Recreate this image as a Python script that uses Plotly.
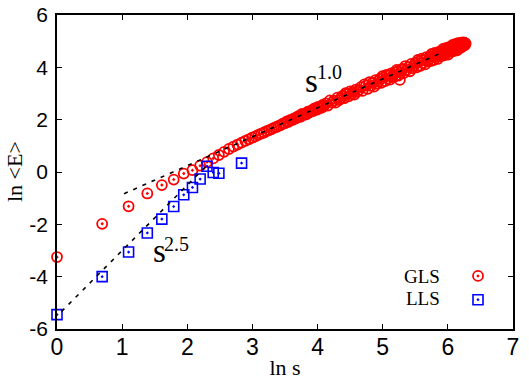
import numpy as np
import plotly.graph_objects as go

# GLS: cluster size s and ln<E>
gls_s = list(range(1, 61)) + list(range(62, 101, 2)) + list(range(103, 200, 3)) + list(range(200, 531, 5))
gls_lnE = [
    # s = 1..40
    -3.25, -1.98, -1.31, -0.82, -0.50, -0.29, -0.06, 0.07, 0.24, 0.38,
    0.52, 0.65, 0.77, 0.88, 0.97, 1.05, 1.12, 1.19, 1.25, 1.31,
    1.36, 1.42, 1.47, 1.51, 1.56, 1.60, 1.64, 1.69, 1.72, 1.76,
    1.79, 1.85, 1.86, 1.93, 1.92, 1.99, 1.98, 2.05, 2.04, 2.11,
    # s = 41..60
    2.14, 2.11, 2.22, 2.18, 2.23, 2.20, 2.31, 2.27, 2.31, 2.36,
    2.33, 2.43, 2.42, 2.38, 2.49, 2.45, 2.49, 2.45, 2.56, 2.51,
    # s = 62..100 step 2
    2.62, 2.54, 2.74, 2.65, 2.73, 2.65, 2.84, 2.75, 2.82, 2.91,
    2.82, 3.01, 2.98, 2.89, 3.08, 2.98, 3.06, 2.96, 3.15, 3.06,
    # s = 103..199 step 3
    3.13, 3.24, 3.10, 3.35, 3.30, 3.18, 3.43, 3.29, 3.41, 3.26,
    3.51, 3.37, 3.46, 3.56, 3.41, 3.66, 3.61, 3.47, 3.71, 3.57,
    3.68, 3.53, 3.77, 3.63, 3.71, 3.81, 3.66, 3.90, 3.84, 3.70,
    3.52, 3.80, 3.90,
    # s = 200..530 step 5
    3.94, 3.78, 4.05, 3.90, 4.01, 3.85, 4.13, 3.97, 4.06, 4.17,
    4.00, 4.28, 4.22, 4.06, 4.33, 4.17, 4.28, 4.11, 4.39, 4.22,
    4.30, 4.41, 4.24, 4.51, 4.44, 4.28, 4.55, 4.39, 4.49, 4.32,
    4.59, 4.42, 4.50, 4.61, 4.44, 4.70, 4.63, 4.47, 4.73, 4.57,
    4.67, 4.49, 4.77, 4.59, 4.67, 4.78, 4.60, 4.86, 4.80, 4.63,
    4.89, 4.72, 4.82, 4.65, 4.92, 4.74, 4.82, 4.91, 4.75, 4.94,
    4.93, 4.79, 4.95, 4.87, 4.94, 4.85, 4.91,
]
assert len(gls_s) == len(gls_lnE), (len(gls_s), len(gls_lnE))

# LLS
lls_s = [1, 2, 3, 4, 5, 6, 7, 8, 9, 10, 11, 12, 17]
lls_lnE = [-5.45, -4.00, -3.06, -2.33, -1.80, -1.32, -0.87, -0.59, -0.27, 0.22, -0.02, -0.05, 0.34]

# Guide lines (ln s, ln<E>)
guide10_x = [1.03, 5.88]
guide10_y = [-0.83, 4.53]
guide25_x = [0.07, 2.32]
guide25_y = [-5.33, 0.30]

x_ticks = [0, 1, 2, 3, 4, 5, 6, 7]
y_ticks = [-6, -4, -2, 0, 2, 4, 6]

SERIF = "Liberation Serif"
SANS = "Liberation Sans"

W, H = 529, 382
L, R, T, B = 57, 16, 15, 53
pw, ph = W - L - R, H - T - B


def px2paper(px, py):
    return (px - L) / pw, 1 - (py - T) / ph


fig = go.Figure()
fig.add_trace(go.Scatter(x=np.log(gls_s), y=gls_lnE, mode="markers", name=" ",
                         marker=dict(symbol="circle-open-dot", size=10, color="#ff0000",
                                     line=dict(width=1.8, color="#ff0000")),
                         cliponaxis=False))
fig.add_trace(go.Scatter(x=np.log(lls_s), y=lls_lnE, mode="markers", name="  ",
                         marker=dict(symbol="square-open-dot", size=10, color="#0000ff",
                                     line=dict(width=1.6, color="#0000ff")),
                         cliponaxis=False))
for gx, gy in [(guide10_x, guide10_y), (guide25_x, guide25_y)]:
    fig.add_trace(go.Scatter(x=gx, y=gy, mode="lines",
                             line=dict(color="black", width=1.6, dash="4px,6px"),
                             showlegend=False, hoverinfo="skip"))

# power-law labels
for (xs, ys, xe, ye, exp) in [(3.90, 3.475, 4.19, 3.82, "1.0"), (1.58, -3.03, 1.835, -2.76, "2.5")]:
    fig.add_annotation(x=xs, y=ys, xref="x", yref="y", xanchor="center", yanchor="middle",
                       text="s", showarrow=False, font=dict(family=SERIF, size=33, color="black"))
    fig.add_annotation(x=xe, y=ye, xref="x", yref="y", xanchor="center", yanchor="middle",
                       text=exp, showarrow=False, font=dict(family=SERIF, size=20, color="black"))

# legend labels (text sits left of the legend symbols)
for label, (px, py) in [("GLS", (442, 276)), ("LLS", (442, 298))]:
    ax, ay = px2paper(px, py)
    fig.add_annotation(x=ax, y=ay, xref="paper", yref="paper", xanchor="right", yanchor="middle",
                       text=label, showarrow=False, font=dict(family=SERIF, size=19, color="black"))

# y-axis title
tx, ty = px2paper(14, 172)
fig.add_annotation(x=tx, y=ty, xref="paper", yref="paper", xanchor="center", yanchor="middle",
                   text="ln &lt;E&gt;", textangle=-90, showarrow=False,
                   font=dict(family=SERIF, size=22, color="black"))

axis_common = dict(showgrid=False, zeroline=False, showline=True, linecolor="black",
                   linewidth=1.5, mirror="ticks", ticks="inside", ticklen=5,
                   tickwidth=1.2, tickcolor="black", automargin=False)

lx, ly = px2paper(458, 259)
fig.update_layout(
    width=W, height=H,
    margin=dict(l=L, r=R, t=T, b=B),
    paper_bgcolor="white", plot_bgcolor="white",
    xaxis=dict(range=[0, 7], tickvals=x_ticks, ticktext=[str(v) for v in x_ticks],
               tickfont=dict(family=SANS, size=23, color="black"), ticklabelstandoff=-3,
               title=dict(text="ln s", font=dict(family=SERIF, size=22, color="black"), standoff=0),
               **axis_common),
    yaxis=dict(range=[-6, 6], tickvals=y_ticks, ticktext=[str(v) for v in y_ticks],
               tickfont=dict(family=SANS, size=21, color="black"), ticklabelstandoff=3,
               **axis_common),
    legend=dict(x=lx, y=ly, xanchor="left", yanchor="top",
                bgcolor="rgba(0,0,0,0)", borderwidth=0, tracegroupgap=0,
                font=dict(family=SERIF, size=16, color="black")),
    showlegend=True,
)

fig.write_html("out.html", config={"displayModeBar": False},
               post_script="document.body.style.margin='0px';")
